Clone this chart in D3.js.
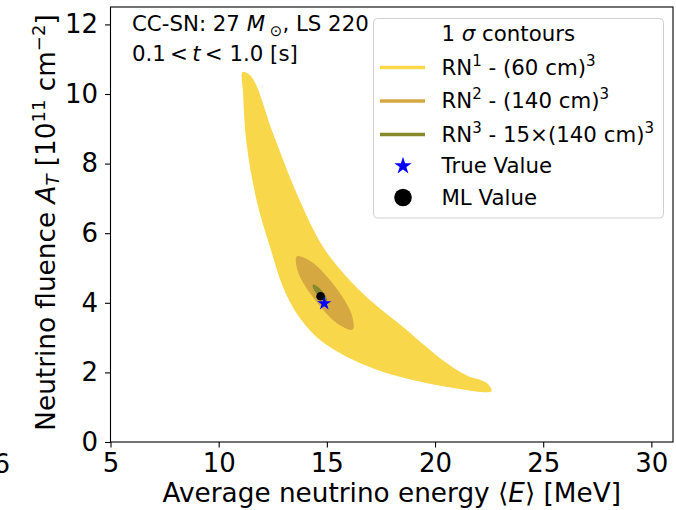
<!DOCTYPE html>
<html>
<head>
<meta charset="utf-8">
<script src="https://cdn.jsdelivr.net/npm/d3@7"></script>
<style>
  html, body { margin: 0; padding: 0; background: #fff; }
  svg { display: block; font-family: "DejaVu Sans", sans-serif; }
</style>
</head>
<body>
<svg id="chart" width="676" height="510"></svg>
<script>
// 1-sigma contour outlines, (mean energy [MeV], fluence [1e11 cm^-2])
const rn1Contour = [
  [11.11, 10.63], [11.13, 10.01], [11.29, 8.58], [11.75, 6.95], [12.37, 5.61],
  [12.97, 4.46], [13.60, 3.70], [14.52, 3.02], [15.60, 2.56], [17.12, 2.12],
  [18.97, 1.78], [20.99, 1.54], [22.61, 1.46], [22.38, 1.70], [21.45, 1.92],
  [20.36, 2.35], [18.51, 3.31], [16.99, 4.08], [15.91, 4.75], [14.82, 5.61],
  [13.60, 7.15], [12.51, 8.87], [11.52, 10.49]
];
const rn2Contour = [
  [16.20, 3.23], [15.51, 3.39], [14.47, 4.07], [13.68, 4.87],
  [13.61, 5.33], [14.30, 5.17], [15.35, 4.49], [16.13, 3.69]
];
const rn3Contour = [
  [15.00, 4.05], [14.83, 4.08], [14.57, 4.23], [14.37, 4.41],
  [14.35, 4.52], [14.52, 4.49], [14.78, 4.34], [14.98, 4.16]
];
const trueValue = [14.88, 3.98];
const mlValue = [14.71, 4.19];

const xTicks = [5, 10, 15, 20, 25, 30];
const yTicks = [0, 2, 4, 6, 8, 10, 12];
const xDomain = [5, 31];
const yDomain = [0, 12.5];

const legendLabels = ["RN1", "RN2", "RN3"];
const colors = { RN1: "#f8d74b", RN2: "#d5a842", RN3: "#878a2c" };

const svg = d3.select("#chart");
const m = { left: 110.5, right: 673, top: 7, bottom: 442 };

const x = d3.scaleLinear().domain(xDomain).range([m.left, m.right]);
const y = d3.scaleLinear().domain(yDomain).range([m.bottom, m.top]);

const area = d3.line()
  .x(d => x(d[0])).y(d => y(d[1]))
  .curve(d3.curveCatmullRomClosed.alpha(0.5));

const plot = svg.append("g");
plot.append("path").attr("d", area(rn1Contour)).attr("fill", colors.RN1);
plot.append("path").attr("d", area(rn2Contour)).attr("fill", colors.RN2);
plot.append("path").attr("d", area(rn3Contour)).attr("fill", colors.RN3);

plot.append("circle")
  .attr("cx", x(mlValue[0])).attr("cy", y(mlValue[1])).attr("r", 4.3)
  .attr("fill", "#000");
plot.append("path")
  .attr("d", d3.symbol().type(d3.symbolStar).size(62)())
  .attr("transform", `translate(${x(trueValue[0])},${y(trueValue[1])})`)
  .attr("fill", "#0000ff");

// axes
const tickFont = "26px";
const xAxis = svg.append("g")
  .attr("transform", `translate(0,${m.bottom})`)
  .call(d3.axisBottom(x).tickValues(xTicks).tickSize(5.5).tickSizeOuter(0).tickPadding(6).tickFormat(d3.format("d")));
const yAxis = svg.append("g")
  .attr("transform", `translate(${m.left},0)`)
  .call(d3.axisLeft(y).tickValues(yTicks).tickSize(5.5).tickSizeOuter(0).tickPadding(7).tickFormat(d3.format("d")));
[xAxis, yAxis].forEach(g => {
  g.select(".domain").remove();
  g.selectAll(".tick line").attr("stroke", "#000").attr("stroke-width", 1.1);
  g.selectAll(".tick text").attr("fill", "#000").style("font-size", tickFont)
    .style("font-family", "DejaVu Sans");
});

svg.append("rect")
  .attr("x", m.left).attr("y", m.top)
  .attr("width", m.right - m.left).attr("height", m.bottom - m.top)
  .attr("fill", "none").attr("stroke", "#000").attr("stroke-width", 1.1);

// neighbouring panel's tick label, cut at the figure edge
svg.append("text").attr("x", 10).attr("y", 473).attr("text-anchor", "end")
  .style("font-size", tickFont).text("6");

// axis titles
const titleFont = "26.3px";
const xl = svg.append("text")
  .attr("x", (m.left + m.right) / 2).attr("y", 502)
  .attr("text-anchor", "middle").style("font-size", titleFont);
xl.append("tspan").text("Average neutrino energy ⟨");
xl.append("tspan").attr("font-style", "italic").text("E");
xl.append("tspan").text("⟩ [MeV]");

const yl = svg.append("text")
  .attr("transform", `translate(55,${(m.top + m.bottom) / 2 - 2}) rotate(-90)`)
  .attr("text-anchor", "middle").style("font-size", titleFont);
yl.append("tspan").text("Neutrino fluence ");
yl.append("tspan").attr("font-style", "italic").text("A");
yl.append("tspan").attr("font-style", "italic").attr("font-size", "18px").attr("dy", 4).text("T");
yl.append("tspan").attr("dy", -4).text(" [10");
yl.append("tspan").attr("font-size", "18px").attr("dy", -10).text("11");
yl.append("tspan").attr("dy", 10).text(" cm");
yl.append("tspan").attr("font-size", "18px").attr("dy", -10).text("−2");
yl.append("tspan").attr("dy", 10).text("]");

// annotation
const noteFont = "21.3px";
const note = svg.append("g").style("font-size", noteFont);
const l1 = note.append("text").attr("x", 132).attr("y", 30.5);
l1.append("tspan").text("CC-SN: 27 ");
l1.append("tspan").attr("font-style", "italic").text("M");
l1.append("tspan").attr("font-size", "15px").attr("dy", 5).text(" ⊙");
l1.append("tspan").attr("dy", -5).text(", LS 220");
const l2 = note.append("text").attr("x", 132).attr("y", 60.5);
l2.append("tspan").text("0.1\u2009<\u2009");
l2.append("tspan").attr("font-style", "italic").text("t");
l2.append("tspan").text("\u2009<  1.0 [s]");

// legend
const lg = svg.append("g");
lg.append("rect")
  .attr("x", 373.5).attr("y", 18.5).attr("width", 290).attr("height", 199.5)
  .attr("rx", 4).attr("fill", "#fff").attr("fill-opacity", 0.8)
  .attr("stroke", "#d0d0d0").attr("stroke-width", 1);
const rowY = [34, 67.5, 101, 134.5, 166, 197.5];
const textX = 441.5;
const lgFont = "21.3px";

const t0 = lg.append("text").attr("x", textX).attr("y", rowY[0]).attr("dy", "0.35em").style("font-size", lgFont);
t0.append("tspan").text("1 ");
t0.append("tspan").attr("font-style", "italic").text("σ");
t0.append("tspan").text(" contours");

const legendTexts = [
  ["RN", "1", " - (60 cm)", "3"],
  ["RN", "2", " - (140 cm)", "3"],
  ["RN", "3", " - 15×(140 cm)", "3"]
];
legendLabels.forEach((k, i) => {
  const yy = rowY[i + 1];
  lg.append("line").attr("x1", 380).attr("x2", 425).attr("y1", yy).attr("y2", yy)
    .attr("stroke", colors[k]).attr("stroke-width", 3.5);
  const t = lg.append("text").attr("x", textX).attr("y", yy).attr("dy", "0.35em").style("font-size", lgFont);
  const p = legendTexts[i];
  t.append("tspan").text(p[0]);
  t.append("tspan").attr("font-size", "15px").attr("dy", -9).text(p[1]);
  t.append("tspan").attr("dy", 9).text(p[2]);
  t.append("tspan").attr("font-size", "15px").attr("dy", -9).text(p[3]);
});

lg.append("path")
  .attr("d", d3.symbol().type(d3.symbolStar).size(95)())
  .attr("transform", `translate(403,${rowY[4]})`).attr("fill", "#0000ff");
lg.append("text").attr("x", textX).attr("y", rowY[4]).attr("dy", "0.35em").style("font-size", lgFont).text("True Value");
lg.append("circle").attr("cx", 403).attr("cy", rowY[5]).attr("r", 8.8).attr("fill", "#000");
lg.append("text").attr("x", textX).attr("y", rowY[5]).attr("dy", "0.35em").style("font-size", lgFont).text("ML Value");
</script>
</body>
</html>
